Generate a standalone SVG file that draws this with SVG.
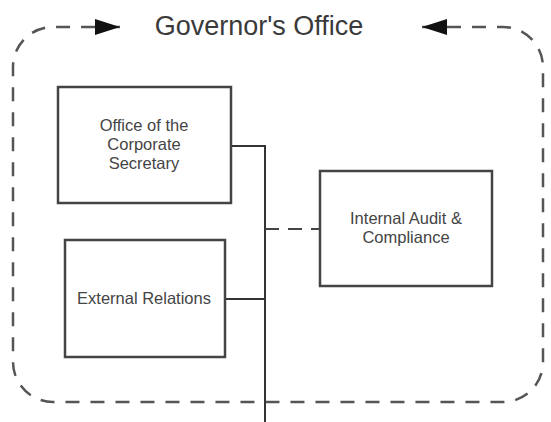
<svg xmlns="http://www.w3.org/2000/svg" width="551" height="422" viewBox="0 0 551 422">
<style>
.box{fill:#fff;stroke:#444;stroke-width:2.5}
.lbl{font-family:"Liberation Sans",Arial,sans-serif;font-size:16.5px;fill:#444;text-anchor:middle}
.title{font-family:"Liberation Sans",Arial,sans-serif;font-size:27px;fill:#3a3a3a;text-anchor:middle}
.solid{fill:none;stroke:#333;stroke-width:2}
.dash{fill:none;stroke:#444;stroke-width:2;stroke-dasharray:14 9}
.frame{fill:none;stroke:#555;stroke-width:2.5;stroke-dasharray:14 11}
</style>
<defs>
<marker id="ah" markerUnits="userSpaceOnUse" markerWidth="25" markerHeight="16" refX="25" refY="8" orient="auto-start-reverse">
<path d="M0,0 L25,8 L0,16 z" fill="#111"/>
</marker>
</defs>
<rect width="551" height="422" fill="#fff"/>
<g id="governors-office">
<path class="frame" d="M 422 27 H 503 A 40 40 0 0 1 543 67 V 362 A 40 40 0 0 1 503 402 H 53 A 40 40 0 0 1 13 362 V 67 A 40 40 0 0 1 53 27 H 120" marker-start="url(#ah)" marker-end="url(#ah)"/>
<text class="title" x="259" y="35">Governor's Office</text>
</g>
<g id="connectors">
<path class="solid" d="M 231 146 H 265 V 422"/>
<path class="solid" d="M 225 299 H 265"/>
<path class="dash" d="M 265 229 H 320"/>
</g>
<g id="corporate-secretary">
<rect class="box" x="58" y="87" width="173" height="116"/>
<text class="lbl" x="144" y="131">Office of the</text>
<text class="lbl" x="144" y="150">Corporate</text>
<text class="lbl" x="144" y="169">Secretary</text>
</g>
<g id="external-relations">
<rect class="box" x="65" y="240" width="160" height="117"/>
<text class="lbl" x="144" y="304">External Relations</text>
</g>
<g id="internal-audit">
<rect class="box" x="320" y="171" width="172" height="115"/>
<text class="lbl" x="406" y="224">Internal Audit &amp;</text>
<text class="lbl" x="406" y="243">Compliance</text>
</g>
</svg>
